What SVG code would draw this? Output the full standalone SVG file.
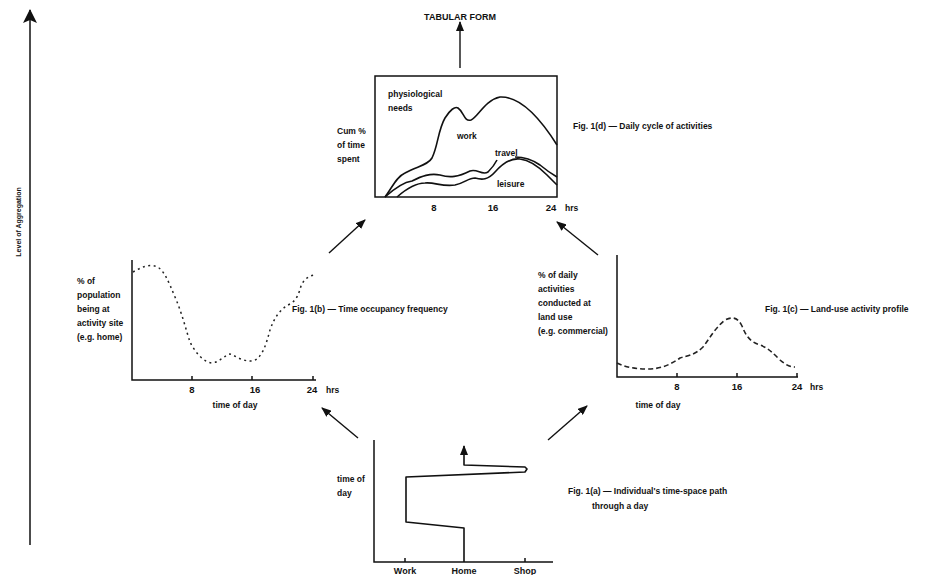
<svg xmlns="http://www.w3.org/2000/svg" width="926" height="575" viewBox="0 0 926 575">
<style>
text{font-family:"Liberation Sans",Arial,sans-serif;font-weight:bold;fill:#111;font-size:8.5px}
.ax{fill:none;stroke:#111;stroke-width:1.5}
.cv{fill:none;stroke:#111;stroke-width:1.6;stroke-linejoin:round}
.dot{fill:none;stroke:#222;stroke-width:1.5;stroke-dasharray:2 3.5}
.dash{fill:none;stroke:#222;stroke-width:1.6;stroke-dasharray:5 3}
.con{fill:none;stroke:#111;stroke-width:1.4}
.tk{font-size:9.5px}
.mid{text-anchor:middle}
</style>
<defs>
<marker id="ah" markerWidth="10" markerHeight="8" refX="9" refY="4" orient="auto" markerUnits="userSpaceOnUse">
<path d="M0,0 L10,4 L0,8 Z" fill="#111"/>
</marker>
<marker id="big" markerWidth="14" markerHeight="18" refX="13" refY="7" orient="auto" markerUnits="userSpaceOnUse">
<path d="M0,0 L14,7 L0,14 L3,7 Z" fill="#111"/>
</marker>
</defs>
<rect width="926" height="575" fill="#fff"/>

<g id="aggregation-axis">
<line x1="30" y1="545" x2="30" y2="10" class="ax" marker-end="url(#big)"/>
<text transform="translate(21,222) rotate(-90)" class="mid" style="font-size:7px">Level of Aggregation</text>
</g>

<g id="fig-d">
<rect x="375" y="76" width="182" height="121" class="ax"/>
<text x="460" y="20" class="mid" style="font-size:9px">TABULAR FORM</text>
<path class="cv" d="M385,197 C392,188 396,177 405,173 C418,166 428,165 432,158 C438,146 438,130 445,118 C450,110 455,106 458,108 C464,112 464,122 471,120 C478,117 485,100 500,97 C520,96 540,118 557,145"/>
<path class="cv" d="M385,197 C395,188 405,182 412,181 C422,176 430,173 440,175 C450,178 458,177 470,171 C477,168 482,176 488,172 C492,168 495,164 497,160"/>
<path class="cv" d="M515,157 C522,157 530,158 540,165 C546,170 552,174 557,177"/>
<path class="cv" d="M397,197 C405,190 415,183 425,183 C435,182 442,187 455,185 C465,183 468,178 475,178 C482,180 488,180 495,172 C503,163 512,158 520,159 C530,160 540,168 547,175 C552,180 555,183 557,185"/>
<text x="388" y="97">physiological</text>
<text x="388" y="111">needs</text>
<text x="337" y="134">Cum %</text>
<text x="337" y="148">of time</text>
<text x="337" y="162">spent</text>
<text x="457" y="139">work</text>
<text x="495" y="156">travel</text>
<text x="497" y="187">leisure</text>
<text x="434" y="211" class="tk mid">8</text>
<text x="493" y="211" class="tk mid">16</text>
<text x="551" y="211" class="tk mid">24</text>
<text x="565" y="211">hrs</text>
<text x="573" y="129">Fig. 1(d) — Daily cycle of activities</text>
</g>

<g id="fig-b">
<polyline points="132,260 132,380 316,380" class="ax"/>
<line x1="192" y1="380" x2="192" y2="376" class="ax"/>
<line x1="252" y1="380" x2="252" y2="376" class="ax"/>
<line x1="313" y1="380" x2="313" y2="376" class="ax"/>
<path class="dot" d="M133,272 C140,268 148,264 155,266 C163,268 168,280 175,297 C182,313 186,330 190,342 C195,352 203,362 212,363 C220,362 225,355 230,354 C236,356 243,362 253,361 C262,358 266,345 270,330 C274,318 280,309 290,304 C297,300 299,293 301,286 C304,279 309,276 314,275"/>
<text x="77" y="284">% of</text>
<text x="77" y="298">population</text>
<text x="77" y="312">being at</text>
<text x="77" y="326">activity site</text>
<text x="77" y="340">(e.g. home)</text>
<text x="192" y="393" class="tk mid">8</text>
<text x="255" y="393" class="tk mid">16</text>
<text x="312" y="393" class="tk mid">24</text>
<text x="326" y="393">hrs</text>
<text x="235" y="408" class="mid">time of day</text>
<text x="292" y="312">Fig. 1(b) — Time occupancy frequency</text>
</g>

<g id="fig-c">
<polyline points="617,255 617,377 798,377" class="ax"/>
<line x1="677" y1="377" x2="677" y2="373" class="ax"/>
<line x1="737" y1="377" x2="737" y2="373" class="ax"/>
<line x1="797" y1="377" x2="797" y2="373" class="ax"/>
<path class="dash" d="M617,363 C625,367 635,369 648,369 C660,369 670,365 680,358 C687,356 695,355 703,347 C710,338 715,328 725,320 C733,316 738,318 742,326 C746,336 750,342 760,345 C768,348 773,353 780,360 C786,365 790,367 795,367"/>
<text x="538" y="278">% of daily</text>
<text x="538" y="292">activities</text>
<text x="538" y="306">conducted at</text>
<text x="538" y="320">land use</text>
<text x="538" y="334">(e.g. commercial)</text>
<text x="677" y="390" class="tk mid">8</text>
<text x="737" y="390" class="tk mid">16</text>
<text x="797" y="390" class="tk mid">24</text>
<text x="810" y="390">hrs</text>
<text x="658" y="408" class="mid">time of day</text>
<text x="765" y="312">Fig. 1(c) — Land-use activity profile</text>
</g>

<g id="fig-a">
<polyline points="374,440 374,562 553,562" class="ax"/>
<line x1="405" y1="562" x2="405" y2="558" class="ax"/>
<line x1="525" y1="562" x2="525" y2="558" class="ax"/>
<polyline class="cv" points="464,562 464,528 406,522 406,477 525,472 527,469 525,467 464,465 464,446" marker-end="url(#ah)"/>
<text x="337" y="482">time of</text>
<text x="337" y="496">day</text>
<text x="405" y="574" class="mid" style="font-size:9px">Work</text>
<text x="464" y="574" class="mid" style="font-size:9px">Home</text>
<text x="525" y="574" class="mid" style="font-size:9px">Shop</text>
<text x="568" y="494">Fig. 1(a) — Individual's time-space path</text>
<text x="592" y="509">through a day</text>
</g>

<g id="connectors">
<line x1="460" y1="68" x2="460" y2="22" class="con" marker-end="url(#ah)"/>
<line x1="329" y1="253" x2="365" y2="220" class="con" marker-end="url(#ah)"/>
<line x1="598" y1="255" x2="557" y2="222" class="con" marker-end="url(#ah)"/>
<line x1="358" y1="438" x2="322" y2="408" class="con" marker-end="url(#ah)"/>
<line x1="548" y1="440" x2="587" y2="406" class="con" marker-end="url(#ah)"/>
</g>
</svg>
